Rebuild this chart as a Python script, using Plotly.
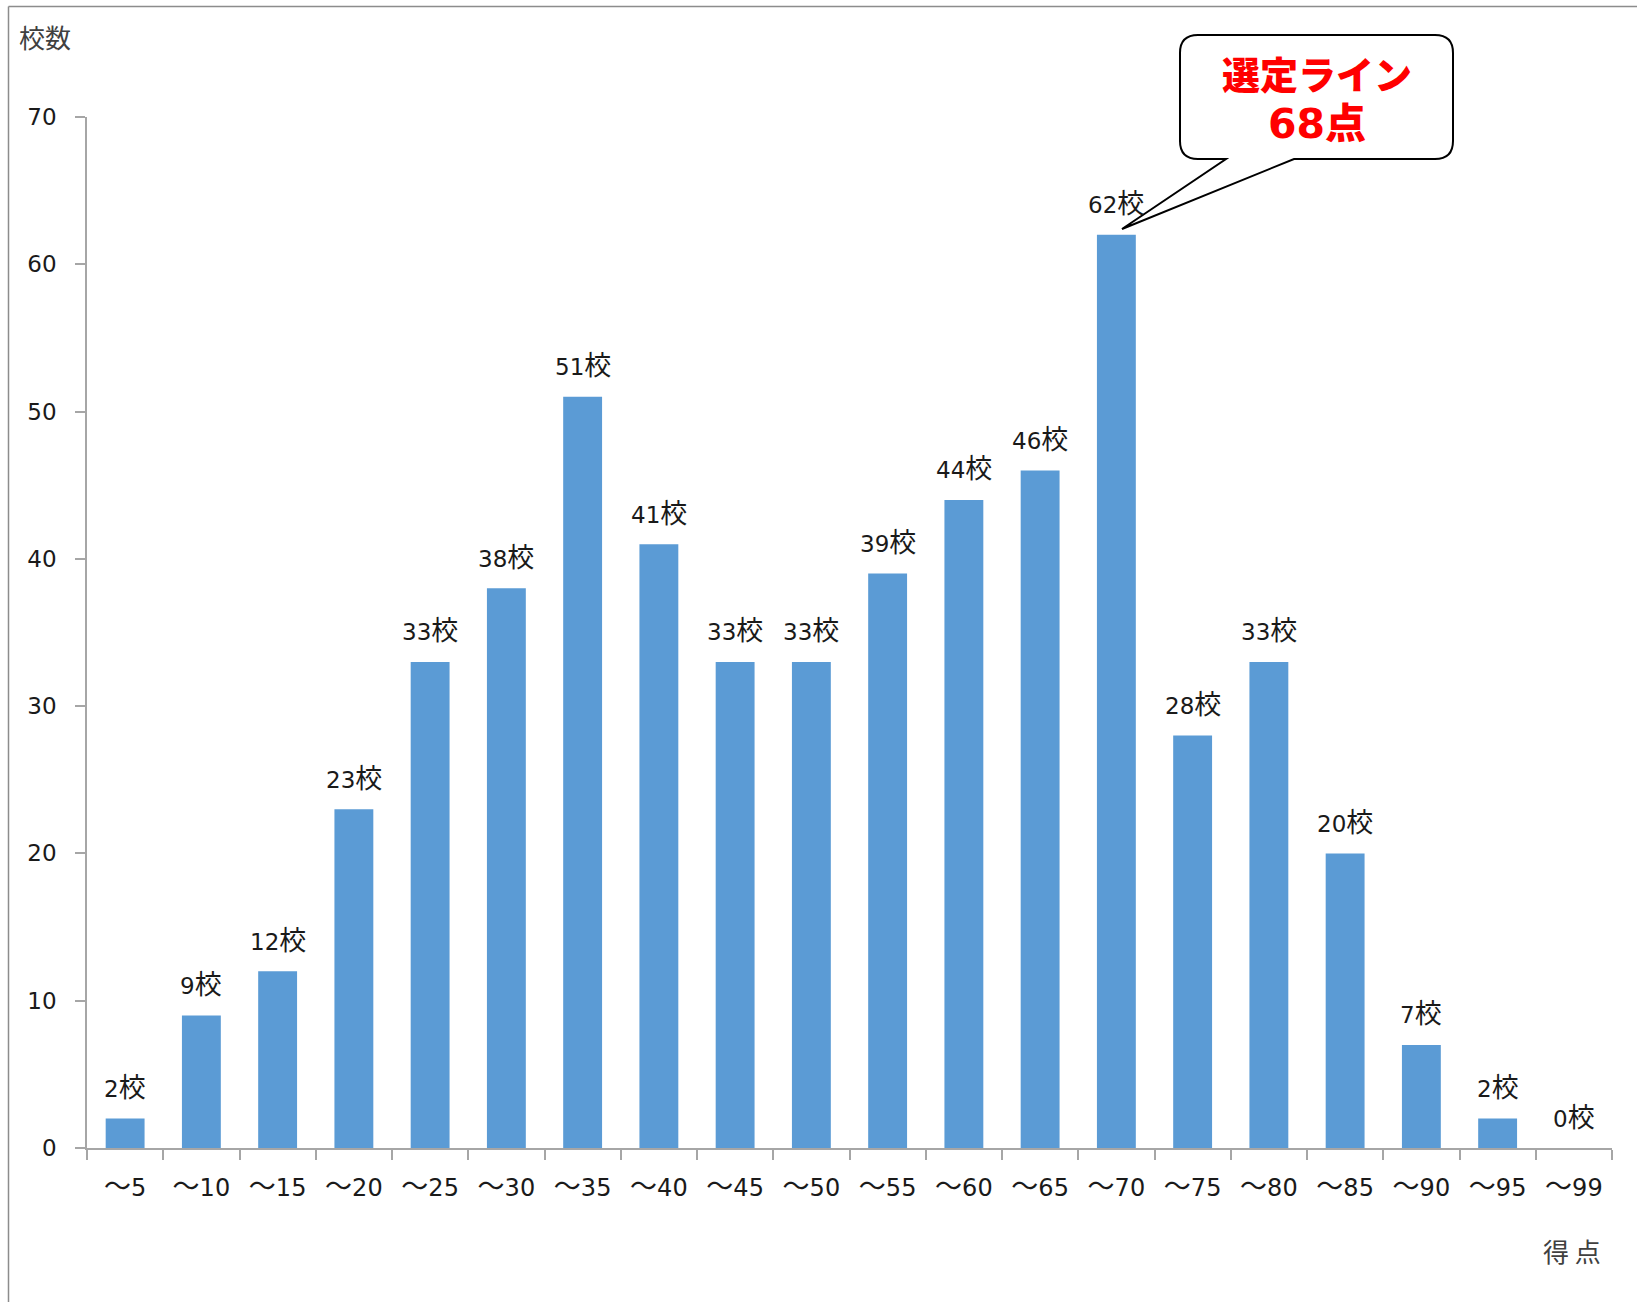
import plotly.graph_objects as go

categories = ["～5", "～10", "～15", "～20", "～25", "～30", "～35", "～40", "～45", "～50",
              "～55", "～60", "～65", "～70", "～75", "～80", "～85", "～90", "～95", "～99"]
counts = [2, 9, 12, 23, 33, 38, 51, 41, 33, 33, 39, 44, 46, 62, 28, 33, 20, 7, 2, 0]
label_suffix = "校"
y_ticks = [0, 10, 20, 30, 40, 50, 60, 70]

W, H = 1637, 1302
L, R, T, B = 87, 1612, 117, 1148
FONT = "DejaVu Sans, Noto Sans CJK JP, sans-serif"
CJK = "Noto Sans CJK JP"
AXIS_COLOR = "#a6a6a6"
TXT = "#1a1a1a"


def px_x(px):
    return (px - L) / (R - L)


def px_y(py):
    return (B - py) / (B - T)


def big(ch, size=27):
    return f'<span style="font-size:{size}px">{ch}</span>'


tick_text = [big(c[0], 27) + c[1:] for c in categories]

fig = go.Figure()
fig.add_trace(go.Bar(
    x=categories, y=counts,
    marker=dict(color="#5b9bd5", line=dict(width=0)),
    hoverinfo="x+y",
))

for c, v in zip(categories, counts):
    fig.add_annotation(x=c, y=v, xref="x", yref="y", text=f"{v}{big(label_suffix)}",
                       showarrow=False, yanchor="middle", yshift=31,
                       font=dict(family=FONT, size=23, color=TXT))

# frame around the chart
fig.add_shape(type="line", xref="paper", yref="paper",
              x0=px_x(8.5), y0=px_y(6.5), x1=px_x(W + 5), y1=px_y(6.5),
              line=dict(color="#8c8c8c", width=1.5))
fig.add_shape(type="line", xref="paper", yref="paper",
              x0=px_x(8.5), y0=px_y(6.5), x1=px_x(8.5), y1=px_y(H + 5),
              line=dict(color="#8c8c8c", width=1.5))

# callout bubble
bx0, bx1, by0, by1, r = 1180, 1453, 35, 159, 18
tail_a, tail_b = 1226, 1294
tip = (1122, 229)


def P(x, y):
    return f"{px_x(x):.5f},{px_y(y):.5f}"


path = (f"M {P(bx0 + r, by0)} L {P(bx1 - r, by0)} "
        f"Q {P(bx1, by0)} {P(bx1, by0 + r)} "
        f"L {P(bx1, by1 - r)} Q {P(bx1, by1)} {P(bx1 - r, by1)} "
        f"L {P(tail_b, by1)} L {P(*tip)} L {P(tail_a, by1)} "
        f"L {P(bx0 + r, by1)} Q {P(bx0, by1)} {P(bx0, by1 - r)} "
        f"L {P(bx0, by0 + r)} Q {P(bx0, by0)} {P(bx0 + r, by0)} Z")
fig.add_shape(type="path", xref="paper", yref="paper", path=path,
              line=dict(color="#000000", width=2), fillcolor="white", layer="above")
fig.add_annotation(xref="paper", yref="paper", x=px_x(1317), y=px_y(73),
                   text="選定ライン", showarrow=False,
                   xanchor="center", yanchor="middle",
                   font=dict(family=CJK, size=38, color="#ff0000", weight=900))
fig.add_annotation(xref="paper", yref="paper", x=px_x(1317), y=px_y(124),
                   text="68点", showarrow=False,
                   xanchor="center", yanchor="middle",
                   font=dict(family="DejaVu Sans, Noto Sans CJK JP", size=41,
                             color="#ff0000", weight=900))

# axis titles
fig.add_annotation(xref="paper", yref="paper", x=px_x(17), y=px_y(36),
                   text="校数", showarrow=False, xanchor="left", yanchor="middle",
                   font=dict(family=CJK, size=26, color="#404040"))
fig.add_annotation(xref="paper", yref="paper", x=px_x(1572), y=px_y(1250),
                   text="得 点", showarrow=False, xanchor="center", yanchor="middle",
                   font=dict(family=CJK, size=26, color="#404040"))

fig.update_layout(
    width=W, height=H,
    margin=dict(l=L, r=W - R, t=T, b=H - B, pad=0),
    paper_bgcolor="white", plot_bgcolor="white",
    bargap=0.49, showlegend=False,
    font=dict(family=FONT, size=23, color=TXT),
)
fig.update_xaxes(
    type="category", showgrid=False, showline=True, linecolor=AXIS_COLOR, linewidth=1.5,
    ticks="outside", ticklen=10, tickcolor=AXIS_COLOR, tickwidth=1.5, tickson="boundaries",
    tickmode="array", tickvals=categories, ticktext=tick_text,
    ticklabelstandoff=17, tickfont=dict(family=FONT, size=24, color=TXT),
)
fig.update_yaxes(
    range=[0, 70], tickvals=y_ticks, showgrid=False, zeroline=False,
    showline=True, linecolor=AXIS_COLOR, linewidth=1.5,
    ticks="outside", ticklen=10, tickcolor=AXIS_COLOR, tickwidth=1.5,
    ticklabelstandoff=14, tickfont=dict(family=FONT, size=23, color=TXT),
)

fig.write_html("out.html")
